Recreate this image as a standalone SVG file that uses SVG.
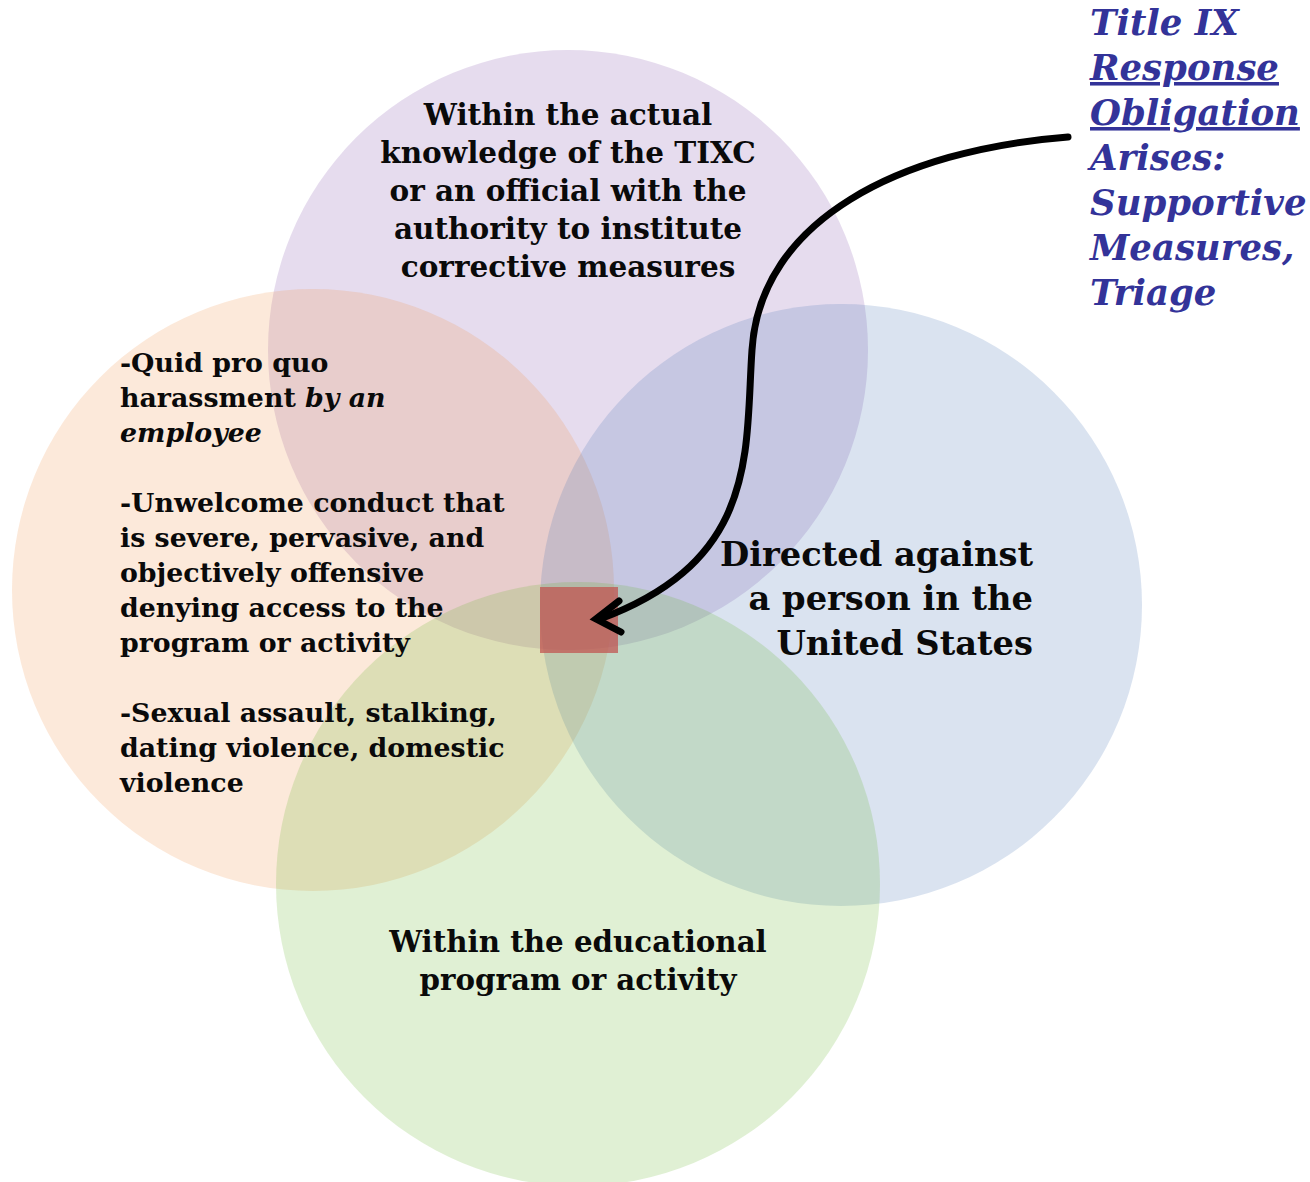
<svg xmlns="http://www.w3.org/2000/svg" width="1310" height="1182" viewBox="0 0 1310 1182">
<defs>
<style>
.t{font-family:"DejaVu Serif","Liberation Serif",serif;font-weight:bold;fill:#0a0a0a}
.c{opacity:0.2}
.ti{font-family:"DejaVu Serif","Liberation Serif",serif;font-weight:bold;font-style:italic;fill:#333399;font-size:35.5px}
</style>
</defs>
<rect width="1310" height="1182" fill="#fff"/>
<g id="circle-knowledge"><circle cx="568" cy="350" r="300" fill="#8250aa" class="c"/></g>
<g id="circle-conduct"><circle cx="313" cy="590" r="301" fill="#f09146" class="c"/></g>
<g id="circle-us"><circle cx="841" cy="605" r="301" fill="#4673b4" class="c"/></g>
<g id="circle-program"><circle cx="578" cy="884" r="302" fill="#64b428" class="c"/></g>
<g id="center"><rect x="540" y="587" width="78" height="66" fill="#c0504d" opacity="0.72"/></g>
<g id="connectors">
<path d="M1068,137 C900,150 760,220 752,350 C745,450 760,560 600,619" fill="none" stroke="#000" stroke-width="7" stroke-linecap="round"/>
<path d="M619,601 L596,619 L621,632" fill="none" stroke="#000" stroke-width="7" stroke-linecap="round" stroke-linejoin="miter"/>
</g>
<g id="text-knowledge" class="t" font-size="29.5" text-anchor="middle">
<text x="568" y="125">Within the actual</text>
<text x="568" y="163">knowledge of the TIXC</text>
<text x="568" y="201">or an official with the</text>
<text x="568" y="239">authority to institute</text>
<text x="568" y="277">corrective measures</text>
</g>
<g id="text-conduct" class="t" font-size="26.8">
<text x="120" y="372">-Quid pro quo</text>
<text x="120" y="407">harassment <tspan font-style="italic">by an</tspan></text>
<text x="120" y="442" font-style="italic">employee</text>
<text x="120" y="512">-Unwelcome conduct that</text>
<text x="120" y="547">is severe, pervasive, and</text>
<text x="120" y="582">objectively offensive</text>
<text x="120" y="617">denying access to the</text>
<text x="120" y="652">program or activity</text>
<text x="120" y="722">-Sexual assault, stalking,</text>
<text x="120" y="757">dating violence, domestic</text>
<text x="120" y="792">violence</text>
</g>
<g id="text-us" class="t" font-size="33.7" text-anchor="end">
<text x="1033" y="566">Directed against</text>
<text x="1033" y="610">a person in the</text>
<text x="1033" y="655">United States</text>
</g>
<g id="text-program" class="t" font-size="29.3" text-anchor="middle">
<text x="578" y="952">Within the educational</text>
<text x="578" y="990">program or activity</text>
</g>
<g id="title" class="ti">
<text x="1090" y="35">Title IX</text>
<text x="1090" y="80" text-decoration="underline">Response</text>
<text x="1090" y="125" text-decoration="underline">Obligation</text>
<text x="1090" y="170">Arises:</text>
<text x="1090" y="215">Supportive</text>
<text x="1090" y="260">Measures,</text>
<text x="1090" y="305">Triage</text>
</g>
</svg>
